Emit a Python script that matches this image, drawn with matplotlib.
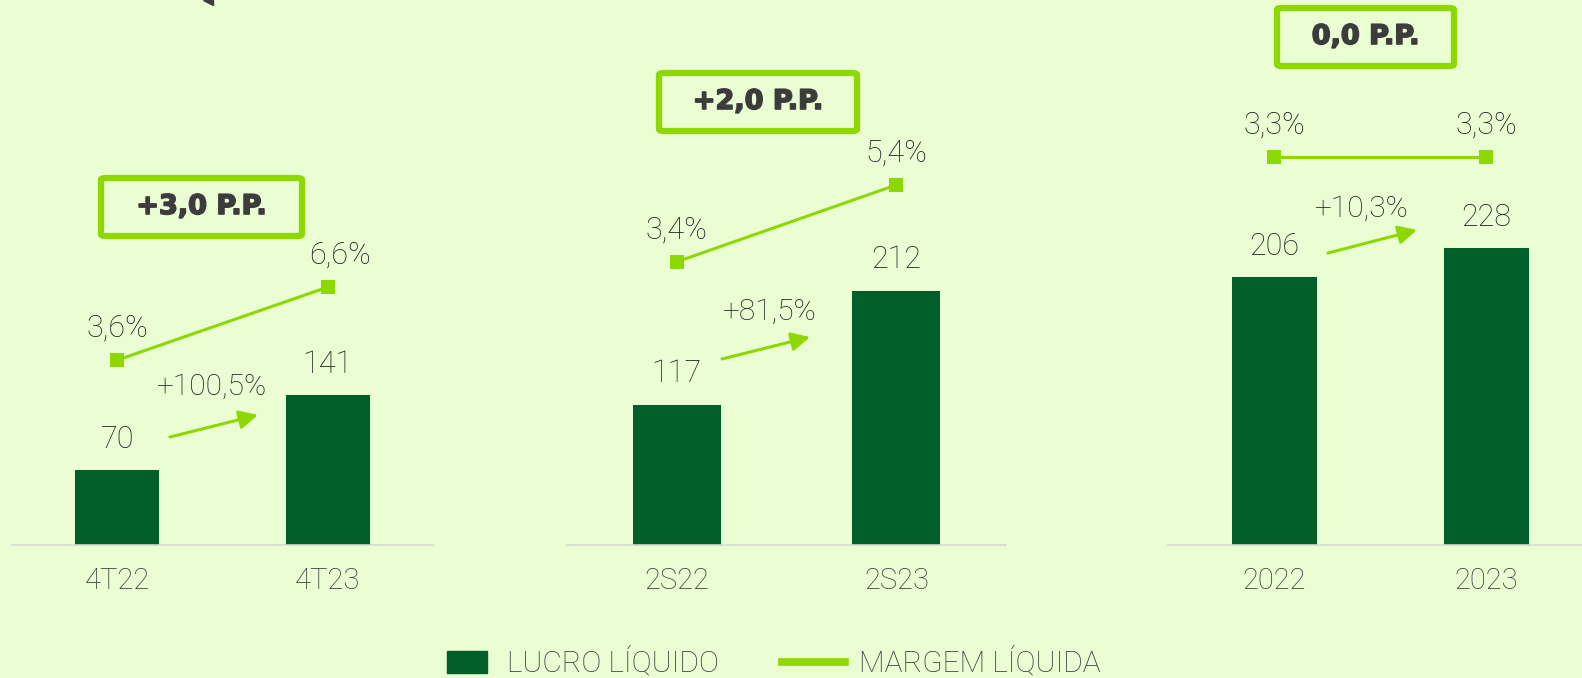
import matplotlib.pyplot as plt
import matplotlib.patheffects as pe
from matplotlib.patches import FancyBboxPatch, Polygon

# data
periods = [["4T22", "4T23"], ["2S22", "2S23"], ["2022", "2023"]]
lucro = [[70, 141], [117, 212], [206, 228]]
margem = [[3.6, 6.6], [3.4, 5.4], [3.3, 3.3]]
margem_lbl = [["3,6%", "6,6%"], ["3,4%", "5,4%"], ["3,3%", "3,3%"]]
growth = ["+100,5%", "+81,5%", "+10,3%"]
delta_pp = ["+3,0 P.P.", "+2,0 P.P.", "0,0 P.P."]
legend_labels = ["LUCRO LÍQUIDO", "MARGEM LÍQUIDA"]

BG = "#ebfdd3"
DARK = "#005e28"
LIME = "#8cd800"
TXT = "#1e1e1e"
TICK = "#383838"
W8 = "light"

W, H = 1582, 678
fig = plt.figure(figsize=(W / 100, H / 100), dpi=100, facecolor=BG)
plt.rcParams["font.family"] = ["Roboto", "DejaVu Sans"]


def fx(px):
    return px / W


def fy(py):
    return 1 - py / H


base = 545
# layout per panel (pixels): axes left/right, xlim, bar ylim top, margin ylim
panels = [
    dict(l=12, r=433, xlim=(-0.5, 1.5), ytop=512, mlim=(-4.0, 18.4), ldx=[0, 9]),
    dict(l=567, r=1006, xlim=(-0.498, 1.498), ytop=454, mlim=(-3.95, 10.2), ldx=[0, 0]),
    dict(l=1168, r=1582, xlim=(-0.5, 1.45), ytop=419, mlim=(0, 4.635), ldx=[0, 0]),
]
arrows = [((170, 437), (258, 415), (212, 387)),
          ((722, 359), (810, 337), (770, 312)),
          ((1328, 253), (1417, 230), (1362, 209))]
boxes = [(101, 178, 201, 58), (659, 73, 198, 58), (1277, 8, 177, 58)]

for i, p in enumerate(panels):
    ax = fig.add_axes([fx(p["l"]), fy(base), fx(p["r"] - p["l"]), base / H])
    ax.set_facecolor("none")
    x = [0, 1]
    ax.bar(x, lucro[i], width=0.4, color=DARK)
    ax.set_xlim(*p["xlim"])
    ax.set_ylim(0, p["ytop"])
    for s in ["top", "left", "right"]:
        ax.spines[s].set_visible(False)
    ax.spines["bottom"].set_color("#d3dacd")
    ax.spines["bottom"].set_linewidth(1.2)
    ax.set_yticks([])
    ax.set_xticks(x)
    ax.set_xticklabels(periods[i], fontsize=21, color=TICK, fontweight=W8)
    ax.tick_params(axis="x", length=0, pad=16)
    for xi, v in zip(x, lucro[i]):
        ax.annotate(str(v), (xi, v), xytext=(0, 22), textcoords="offset points",
                    ha="center", va="center", fontsize=22, color=TXT, fontweight=W8)

    tw = ax.twinx()
    tw.plot(x, margem[i], color=LIME, lw=2.2, marker="s", ms=10, markeredgewidth=0)
    tw.set_ylim(*p["mlim"])
    tw.set_xlim(*p["xlim"])
    tw.axis("off")
    for xi, v, lb, dx in zip(x, margem[i], margem_lbl[i], p["ldx"]):
        tw.annotate(lb, (xi, v), xytext=(dx, 23), textcoords="offset points",
                    ha="center", va="center", fontsize=22, color=TXT, fontweight=W8)

    (x0, y0), (x1, y1), (tx, ty) = arrows[i]
    ax.annotate("", xy=(fx(x1), fy(y1)), xytext=(fx(x0), fy(y0)),
                xycoords="figure fraction", textcoords="figure fraction",
                arrowprops=dict(arrowstyle="-|>", color=LIME, lw=2.2,
                                mutation_scale=28, shrinkA=0, shrinkB=0))
    fig.text(fx(tx), fy(ty), growth[i], ha="center", va="center",
             fontsize=21.5, color=TXT, fontweight=W8)

    bx, by, bw, bh = boxes[i]
    fig.patches.append(FancyBboxPatch((fx(bx), fy(by + bh)), fx(bw), bh / H,
                                      boxstyle="round,pad=0,rounding_size=0.003",
                                      transform=fig.transFigure, facecolor="none",
                                      edgecolor=LIME, lw=4.5))
    fig.text(fx(bx + bw / 2), fy(by + bh / 2), delta_pp[i], ha="center", va="center",
             fontsize=19.5, color="#3c3c3c", fontweight="heavy", family="DejaVu Sans",
             path_effects=[pe.withStroke(linewidth=1.2, foreground="#3c3c3c")])

# piece of a cut-off element at the top edge
fig.patches.append(Polygon([(fx(203), fy(0)), (fx(213), fy(0)), (fx(213), fy(5))],
                           closed=True, transform=fig.transFigure, color="#3c3c3c"))

# legend
fig.patches.append(plt.Rectangle((fx(447), fy(673)), fx(40), 22 / H,
                                 transform=fig.transFigure, color=DARK))
fig.text(fx(507), fy(662), legend_labels[0], ha="left", va="center",
         fontsize=21.5, color=TICK, fontweight=W8)
fig.add_artist(plt.Line2D([fx(782), fx(845)], [fy(662), fy(662)],
                          transform=fig.transFigure, color=LIME, lw=5.5))
fig.text(fx(859), fy(662), legend_labels[1], ha="left", va="center",
         fontsize=21.5, color=TICK, fontweight=W8)

fig.savefig("out.png", dpi=100, facecolor=BG)
